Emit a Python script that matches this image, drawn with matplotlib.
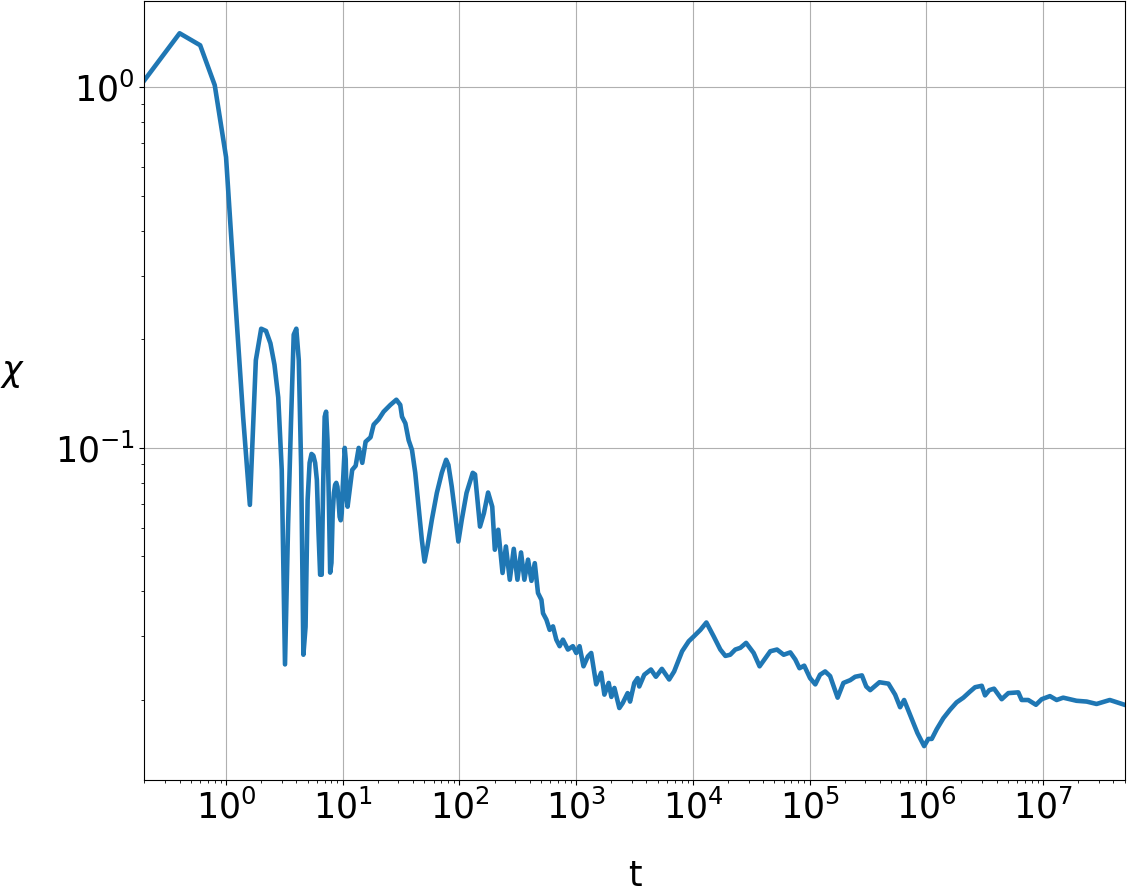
import matplotlib
matplotlib.use("Agg")
import matplotlib.pyplot as plt

# time samples
t_vals = [
    0.2, 0.4, 0.6, 0.8, 1.0, 1.2, 1.4, 1.6, 1.8, 2.0,
    2.2, 2.4, 2.6, 2.8, 3.0, 3.2, 3.4, 3.6, 3.8, 4.0,
    4.2, 4.4, 4.6, 4.8, 5.0, 5.2, 5.4, 5.6, 5.8, 6.0,
    6.2, 6.4, 6.6, 6.8, 7.0, 7.2, 7.4, 7.6, 7.8, 8.0,
    8.2, 8.4, 8.6, 8.8, 9.0, 9.2, 9.4, 9.6, 9.8, 10.0,
    10.4, 10.6, 10.8, 11.0, 12.05, 12.9, 13.7, 14.7, 15.7, 17.3,
    18.4, 20.3, 22.4, 25.6, 28.8, 31.1, 32.2, 34.4, 36.7, 39.2,
    41.8, 44.6, 47.6, 50.2, 53.2, 58, 64, 70.6, 76.9, 80.4,
    85.9, 91.7, 97.9, 104.7, 115, 130, 136, 150, 162, 176,
    191, 201, 215, 234, 250, 270, 292, 314, 337, 360,
    387, 414, 442, 471, 504, 520, 556, 593, 633, 676,
    722, 770, 850, 937, 1002, 1069, 1156, 1259, 1346, 1485,
    1637, 1746, 1901, 2004, 2127, 2345, 2502, 2761, 2897, 3150,
    3360, 3473, 3834, 4374, 4823, 5427, 6266, 6915, 8090, 9220,
    10170, 11610, 13060, 15100, 17200, 19000, 20900, 23100, 25500, 28600,
    33200, 37300, 41800, 46100, 52600, 60000, 68400, 75500, 82000, 90000,
    1.01e5, 1.12e5, 1.23e5, 1.36e5, 1.50e5, 1.74e5, 1.95e5, 2.23e5, 2.46e5, 2.81e5,
    3.06e5, 3.31e5, 3.97e5, 4.74e5, 5.41e5, 5.97e5, 6.46e5, 7.27e5, 8.40e5, 9.59e5,
    1.04e6, 1.115e6, 1.23e6, 1.40e6, 1.60e6, 1.82e6, 2.08e6, 2.37e6, 2.62e6, 2.99e6,
    3.19e6, 3.47e6, 3.81e6, 4.43e6, 5.05e6, 6.15e6, 6.57e6, 7.48e6, 8.71e6, 9.75e6,
    1.148e7, 1.31e7, 1.49e7, 1.94e7, 2.37e7, 2.88e7, 3.74e7, 5.0e7,
]

chi_vals = [
    1.046, 1.411, 1.307, 1.013, 0.640, 0.257, 0.122, 0.0695, 0.175, 0.214,
    0.211, 0.195, 0.170, 0.138, 0.087, 0.0251, 0.061, 0.117, 0.206, 0.214,
    0.175, 0.0886, 0.0267, 0.0319, 0.0718, 0.0909, 0.0962, 0.0952, 0.0909, 0.0815,
    0.0582, 0.0445, 0.0445, 0.080, 0.122, 0.126, 0.105, 0.0718, 0.0451, 0.048,
    0.066, 0.075, 0.079, 0.080, 0.078, 0.0718, 0.0644, 0.063, 0.066, 0.078,
    0.100, 0.093, 0.072, 0.0687, 0.0869, 0.0892, 0.100, 0.0909, 0.104, 0.107,
    0.116, 0.120, 0.126, 0.1316, 0.136, 0.1316, 0.122, 0.117, 0.105, 0.0987,
    0.0853, 0.0687, 0.0556, 0.0484, 0.0533, 0.0632, 0.075, 0.0853, 0.0927, 0.0897,
    0.0781, 0.066, 0.055, 0.0632, 0.075, 0.0853, 0.0844, 0.0605, 0.0659, 0.0752,
    0.0687, 0.0522, 0.0593, 0.045, 0.0533, 0.0431, 0.0525, 0.0431, 0.0513, 0.0431,
    0.049, 0.0428, 0.0479, 0.0396, 0.0379, 0.0348, 0.0334, 0.0313, 0.0320, 0.0294,
    0.0282, 0.0294, 0.0276, 0.0282, 0.0270, 0.0282, 0.0248, 0.0264, 0.0270, 0.0221,
    0.0238, 0.0207, 0.0223, 0.0204, 0.0216, 0.0190, 0.0196, 0.0209, 0.0198, 0.0223,
    0.0230, 0.0218, 0.0235, 0.0243, 0.0232, 0.0244, 0.0228, 0.0240, 0.0273, 0.0291,
    0.0300, 0.0313, 0.0328, 0.0300, 0.0276, 0.0265, 0.0267, 0.0276, 0.0279, 0.0288,
    0.0270, 0.0248, 0.0261, 0.0273, 0.0276, 0.0267, 0.0271, 0.0259, 0.0245, 0.0249,
    0.0230, 0.0221, 0.0235, 0.0240, 0.0233, 0.0203, 0.0223, 0.0227, 0.0232, 0.0234,
    0.0218, 0.0213, 0.0224, 0.0222, 0.0207, 0.0191, 0.0200, 0.0182, 0.0162, 0.0149,
    0.0156, 0.0156, 0.0166, 0.0178, 0.0188, 0.0197, 0.0203, 0.0211, 0.0217, 0.0219,
    0.0206, 0.0213, 0.0215, 0.0201, 0.0209, 0.0210, 0.0200, 0.0200, 0.0194, 0.0201,
    0.0205, 0.0200, 0.0203, 0.0199, 0.0198, 0.0195, 0.0200, 0.0194,
]

fig = plt.figure(figsize=(11.27, 8.94), dpi=100)
ax = fig.add_axes([0.1282, 0.1275, 0.8696, 0.8714])

ax.plot(t_vals, chi_vals, color="tab:blue", linewidth=3.3)
ax.set_xscale("log")
ax.set_yscale("log")
ax.set_xlim(0.2, 5e7)
ax.set_ylim(0.0120, 1.734)

ax.grid(True, which="major")
ax.tick_params(axis="both", which="major", labelsize=25)

ax.set_xlabel("t", fontsize=25)
ax.set_ylabel(r"$\chi$", fontsize=25, rotation=0)
ax.xaxis.set_label_coords(0.5, -0.102)
ax.yaxis.set_label_coords(-0.135, 0.5)

fig.savefig("out.png", dpi=100)
